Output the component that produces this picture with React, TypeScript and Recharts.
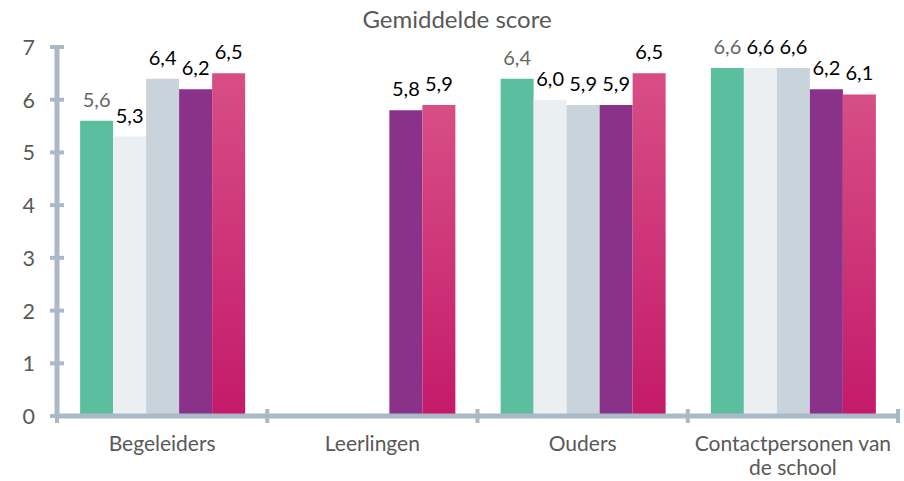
import React from 'react';
import { BarChart, Bar, XAxis, YAxis, LabelList } from 'recharts';

const categories = ['Begeleiders', 'Leerlingen', 'Ouders', 'Contactpersonen van de school'];
const categoryLines = [['Begeleiders'], ['Leerlingen'], ['Ouders'], ['Contactpersonen van', 'de school']];
const seriesA = [5.6, null, 6.4, 6.6];
const seriesB = [5.3, null, 6.0, 6.6];
const seriesC = [6.4, null, 5.9, 6.6];
const seriesD = [6.2, 5.8, 5.9, 6.2];
const seriesE = [6.5, 5.9, 6.5, 6.1];
const yTicks = [0, 1, 2, 3, 4, 5, 6, 7];
const title = 'Gemiddelde score';

const data = categories.map((c, i) => ({
  name: c,
  a: seriesA[i],
  b: seriesB[i],
  c: seriesC[i],
  d: seriesD[i],
  e: seriesE[i],
}));

const W = 904;
const H = 481;
const M = { top: 47, right: 6, bottom: 0, left: 0 };
const YW = 57;
const XH = 65;
const plotW = W - M.left - M.right - YW;
const band = plotW / categories.length;
const AXIS = '#a9b9c5';
const FONT = 'Lato, sans-serif';

const fmt = (v: any) => (v === null || v === undefined ? '' : Number(v).toFixed(1).replace('.', ','));

const XTick = (props: any) => {
  const { x, y, payload, index } = props;
  const idx = payload?.index ?? index;
  const lines = categoryLines[idx] || [payload.value];
  return (
    <g>
      <line x1={x - band / 2} x2={x - band / 2} y1={y - 7} y2={y + 7} stroke={AXIS} strokeWidth={4} />
      {idx === categories.length - 1 && (
        <line x1={x + band / 2} x2={x + band / 2} y1={y - 7} y2={y + 7} stroke={AXIS} strokeWidth={4} />
      )}
      {lines.map((l: string, i: number) => (
        <text key={i} x={x} y={y + 35 + i * 24} textAnchor="middle" fill="#595959" fontSize={21} fontFamily={FONT}>
          {l}
        </text>
      ))}
    </g>
  );
};

const YTick = (props: any) => {
  const { x, y, payload } = props;
  return (
    <g>
      <line x1={x - 7} x2={x + 7} y1={y} y2={y} stroke={AXIS} strokeWidth={4} />
      <text x={x - 22} y={y} textAnchor="end" dominantBaseline="central" fill="#595959" fontSize={21.5} fontFamily={FONT}>
        {payload.value}
      </text>
    </g>
  );
};

const labelStyle = (color: string) => ({ fill: color, fontSize: 20, fontFamily: FONT });

export default function App() {
  return (
    <div style={{ position: 'absolute', left: 0, top: 0, width: W, height: H, background: '#fff' }}>
      <div
        style={{
          position: 'absolute',
          left: 0,
          width: 914,
          top: 4,
          textAlign: 'center',
          fontFamily: FONT,
          fontSize: 24,
          color: '#595959',
          lineHeight: '30px',
        }}
      >
        {title}
      </div>
      <BarChart width={W} height={H} data={data} margin={M} barCategoryGap="11%" barGap={0}>
        <defs>
          <linearGradient id="pinkGrad" x1="0" y1="0" x2="0" y2="1">
            <stop offset="0%" stopColor="#d74e85" />
            <stop offset="100%" stopColor="#c41a6a" />
          </linearGradient>
        </defs>
        <XAxis
          dataKey="name"
          height={XH}
          axisLine={{ stroke: AXIS, strokeWidth: 5 }}
          tickLine={false}
          tickSize={0}
          tickMargin={0}
          interval={0}
          tick={<XTick />}
        />
        <YAxis
          width={YW}
          domain={[0, 7]}
          ticks={yTicks}
          axisLine={{ stroke: AXIS, strokeWidth: 5 }}
          tickLine={false}
          tickSize={0}
          tickMargin={0}
          interval={0}
          tick={<YTick />}
        />
        <Bar dataKey="a" fill="#5bbf9f" isAnimationActive={false}>
          <LabelList dataKey="a" position="top" offset={14} formatter={fmt} style={labelStyle('#666666')} />
        </Bar>
        <Bar dataKey="b" fill="#ebeff2" isAnimationActive={false}>
          <LabelList dataKey="b" position="top" offset={14} formatter={fmt} style={labelStyle('#000000')} />
        </Bar>
        <Bar dataKey="c" fill="#c8d3dc" isAnimationActive={false}>
          <LabelList dataKey="c" position="top" offset={14} formatter={fmt} style={labelStyle('#000000')} />
        </Bar>
        <Bar dataKey="d" fill="#8a3189" isAnimationActive={false}>
          <LabelList dataKey="d" position="top" offset={14} formatter={fmt} style={labelStyle('#000000')} />
        </Bar>
        <Bar dataKey="e" fill="url(#pinkGrad)" isAnimationActive={false}>
          <LabelList dataKey="e" position="top" offset={14} formatter={fmt} style={labelStyle('#000000')} />
        </Bar>
      </BarChart>
    </div>
  );
}
